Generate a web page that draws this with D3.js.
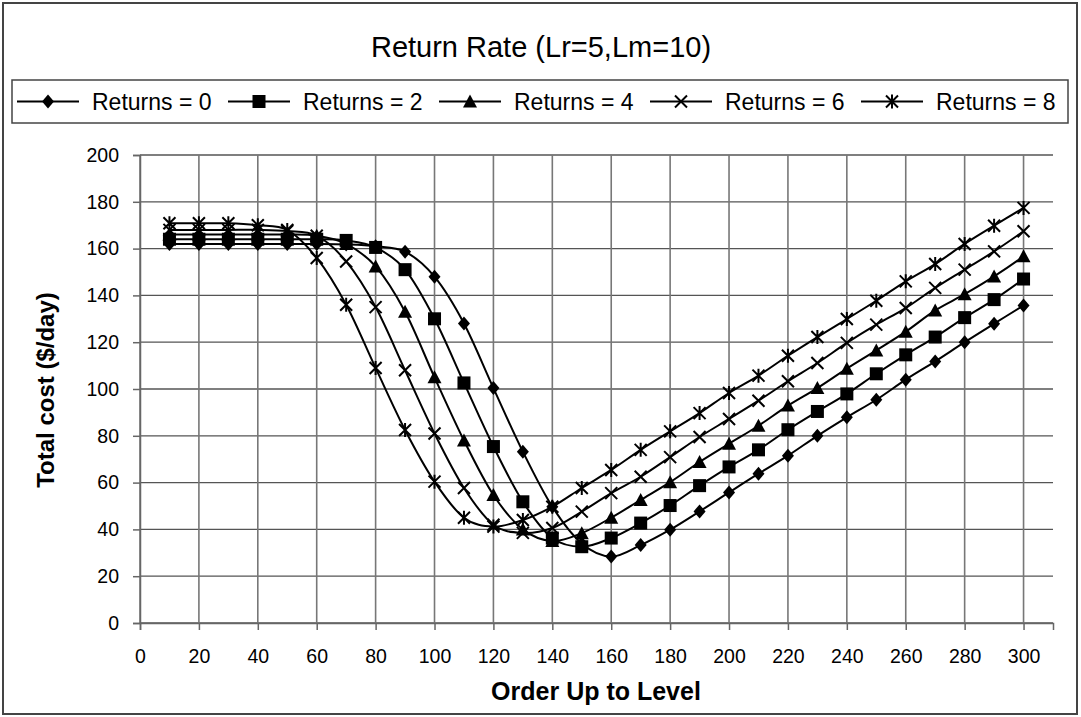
<!DOCTYPE html>
<html><head><meta charset="utf-8">
<script src="https://cdn.jsdelivr.net/npm/d3@7"></script>
<style>
html,body{margin:0;padding:0;background:#fff;}
svg{display:block;font-family:"Liberation Sans",Arial,sans-serif;}
</style></head>
<body><svg id="c" width="1081" height="717"></svg>
<script>
const xValues = [10,20,30,40,50,60,70,80,90,100,110,120,130,140,150,160,170,180,190,200,210,220,230,240,250,260,270,280,290,300];
const seriesNames = ["Returns = 0","Returns = 2","Returns = 4","Returns = 6","Returns = 8"];
const returns0 = [162,162,162,162,162,162,161.8,161,158.7,148,128,100.4,73.2,49.7,34,28.4,33.3,39.9,47.7,55.8,63.8,71.5,80,87.9,95.4,104,111.8,120,127.9,135.7];
const returns2 = [164,164,164,164,164,164,163.5,160.5,151,130,102.6,75.4,51.8,36.3,32.6,36.3,42.7,50.2,58.7,66.7,74,82.6,90.4,97.9,106.5,114.6,122.2,130.5,138.2,147];
const returns4 = [166,166,166,166,166,165.5,162,152.4,133,105,78,54.7,40,35,38.4,45,52.6,60.2,68.8,76.6,84.3,92.9,100.4,108.7,116.5,124.5,133.6,140.5,148.1,156.7];
const returns6 = [168,168,168,168,167.5,165.5,154.5,135,108,81,57.7,42,38.5,40.6,47.6,55.5,62.5,70.9,79.5,87.2,95,103.3,111.1,119.7,127.5,134.6,143.2,151,158.8,167.4];
const returns8 = [170.8,170.8,170.8,170,168,156,136,109,82.5,60.4,45,41.2,44,49.7,57.7,65.4,74,81.9,89.7,98.3,105.7,114.2,122.2,129.9,137.7,146,153.4,162,169.8,177.4];
const xTicks = [0,20,40,60,80,100,120,140,160,180,200,220,240,260,280,300];
const yTicks = [0,20,40,60,80,100,120,140,160,180,200];
const markerTypes = ["diamond","square","triangle","x","star"];
const allSeries = [returns0,returns2,returns4,returns6,returns8];

const svg = d3.select("#c");
const L=140, R=1053, T=155, B=623;
const x = d3.scaleLinear().domain([0,310]).range([L,R]);
const y = d3.scaleLinear().domain([0,200]).range([B,T]);

svg.append("rect").attr("x",3).attr("y",3).attr("width",1074).attr("height",711)
  .attr("fill","#fff").attr("stroke","#444").attr("stroke-width",2);

svg.append("text").attr("x",541).attr("y",57).attr("text-anchor","middle")
  .attr("font-size",29).text("Return Rate (Lr=5,Lm=10)");

function marker(g, type, cx, cy){
  if(type==="diamond"){
    g.append("path").attr("d",`M${cx},${cy-7}L${cx+6},${cy}L${cx},${cy+7}L${cx-6},${cy}Z`).attr("fill","#000");
  } else if(type==="square"){
    g.append("rect").attr("x",cx-6.5).attr("y",cy-6.5).attr("width",13).attr("height",13).attr("fill","#000");
  } else if(type==="triangle"){
    g.append("path").attr("d",`M${cx},${cy-7}L${cx+7},${cy+6}L${cx-7},${cy+6}Z`).attr("fill","#000");
  } else if(type==="x"){
    g.append("path").attr("d",`M${cx-6},${cy-6}L${cx+6},${cy+6}M${cx-6},${cy+6}L${cx+6},${cy-6}`).attr("stroke","#000").attr("stroke-width",2).attr("fill","none");
  } else {
    g.append("path").attr("d",`M${cx-6},${cy-6}L${cx+6},${cy+6}M${cx-6},${cy+6}L${cx+6},${cy-6}M${cx},${cy-7}L${cx},${cy+7}`).attr("stroke","#000").attr("stroke-width",2).attr("fill","none");
  }
}

const leg = svg.append("g");
leg.append("rect").attr("x",12).attr("y",80).attr("width",1056).attr("height",43)
  .attr("fill","#fff").attr("stroke","#444").attr("stroke-width",1.5);
seriesNames.forEach((name,i)=>{
  const x0 = 12 + i*211;
  const g = leg.append("g");
  g.append("line").attr("x1",x0+5).attr("x2",x0+67).attr("y1",101.5).attr("y2",101.5).attr("stroke","#000").attr("stroke-width",2);
  marker(g, markerTypes[i], x0+36, 101.5);
  g.append("text").attr("x",x0+80).attr("y",110).attr("font-size",23).text(name);
});

const grid = svg.append("g");
grid.selectAll(".hg").data(yTicks).enter().append("line")
  .attr("x1",L).attr("x2",R).attr("y1",d=>y(d)).attr("y2",d=>y(d))
  .attr("stroke","#555").attr("stroke-width",1.3);
grid.selectAll(".vg").data(xTicks).enter().append("line")
  .attr("x1",d=>x(d)).attr("x2",d=>x(d)).attr("y1",T).attr("y2",B)
  .attr("stroke","#777").attr("stroke-width",1.6);

const yAxis = svg.append("g").attr("transform",`translate(${L},0)`)
  .call(d3.axisLeft(y).tickValues(yTicks).tickSize(7).tickPadding(14));
const xAxis = svg.append("g").attr("transform",`translate(0,${B})`)
  .call(d3.axisBottom(x).tickValues(xTicks).tickSize(7).tickPadding(19));
[yAxis,xAxis].forEach(a=>{
  a.selectAll("path").attr("stroke","#666").attr("stroke-width",1.5);
  a.selectAll("line").attr("stroke","#666").attr("stroke-width",1.5);
  a.selectAll("text").attr("font-size",19.5).attr("fill","#000").attr("font-family","Liberation Sans, Arial, sans-serif");
});

svg.append("text").attr("x",596).attr("y",700).attr("text-anchor","middle")
  .attr("font-size",25).attr("font-weight","bold").text("Order Up to Level");
svg.append("text").attr("transform","translate(54,390) rotate(-90)").attr("text-anchor","middle")
  .attr("font-size",24).attr("font-weight","bold").text("Total cost ($/day)");

const line = d3.line().x(d=>x(d[0])).y(d=>y(d[1])).curve(d3.curveCatmullRom.alpha(0));
allSeries.forEach((vals,i)=>{
  const pts = xValues.map((xv,j)=>[xv, vals[j]]);
  const g = svg.append("g");
  g.append("path").attr("d",line(pts)).attr("fill","none").attr("stroke","#000").attr("stroke-width",2);
  pts.forEach(p=>marker(g, markerTypes[i], x(p[0]), y(p[1])));
});
</script></body></html>
